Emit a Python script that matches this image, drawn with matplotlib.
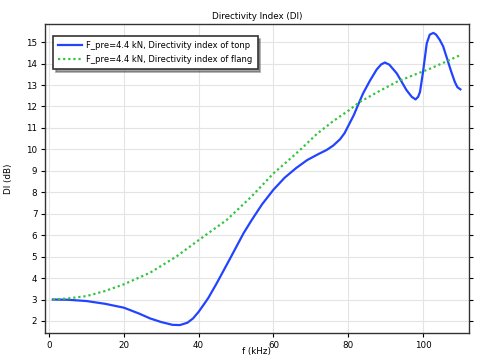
import matplotlib
matplotlib.use("Agg")
import matplotlib.pyplot as plt

# blue: directivity index of tonpilz
f_ton = [1, 5, 10, 15, 20, 24, 27, 30, 33, 35, 37, 38.5, 40, 41.3, 42.6, 44.8, 48.4, 52,
         54.2, 57, 60, 63, 66, 69, 72, 74.2, 76, 77.8, 79, 80, 81.5, 82.7, 84, 85.8,
         87.6, 88.8, 89.8, 91, 93, 95.6, 97, 98, 98.7, 99.2, 100, 101, 101.8, 102.8,
         103.5, 104.5, 105.4, 106.5, 107.5, 108.5, 109.2, 110]
di_ton = [3.0, 2.99, 2.93, 2.8, 2.62, 2.35, 2.12, 1.95, 1.82, 1.81, 1.92, 2.12, 2.43,
          2.75, 3.08, 3.75, 4.91, 6.09, 6.71, 7.45, 8.12, 8.68, 9.12, 9.5, 9.78, 9.97,
          10.18, 10.47, 10.75, 11.09, 11.6, 12.1, 12.62, 13.2, 13.72, 13.96, 14.05,
          13.95, 13.54, 12.76, 12.45, 12.33, 12.45, 12.68, 13.6, 14.94, 15.35, 15.43,
          15.35, 15.1, 14.8, 14.2, 13.65, 13.15, 12.9, 12.8]

# green: directivity index of flange
f_fl = [1, 5, 10, 15, 20, 27, 34, 40, 47.5, 54, 60, 64.4, 67.1, 71.6, 76, 80, 83,
        87.6, 93, 98, 102, 106, 110]
di_fl = [3.0, 3.05, 3.16, 3.4, 3.71, 4.25, 5.0, 5.77, 6.71, 7.78, 8.88, 9.55, 9.97,
         10.72, 11.32, 11.8, 12.2, 12.65, 13.15, 13.5, 13.77, 14.08, 14.4]

xticks = [0, 20, 40, 60, 80, 100]
yticks = list(range(2, 16))

fig = plt.figure(figsize=(4.87, 3.6), dpi=100)
ax = fig.add_axes([0.0924, 0.075, 0.8706, 0.858])

ax.plot(f_ton, di_ton, color="#2244ff", lw=1.6,
        label="F_pre=4.4 kN, Directivity index of tonp")
ax.plot(f_fl, di_fl, color="#33c440", lw=1.6, ls=(0, (1, 1.3)),
        label="F_pre=4.4 kN, Directivity index of flang")

ax.set_xlim(-1.1, 112.3)
ax.set_ylim(1.44, 15.84)
ax.set_xticks(xticks)
ax.set_yticks(yticks)
ax.grid(True, color="#e4e4e4", lw=0.8)
ax.set_axisbelow(True)
ax.tick_params(labelsize=6.3, length=3, width=0.8, pad=2.5)
ax.tick_params(axis="y", right=True, direction="out")
for s in ax.spines.values():
    s.set_linewidth(1.0)
    s.set_color("#333333")

ax.set_title("Directivity Index (DI)", fontsize=6.3, pad=4)
ax.set_xlabel("f (kHz)", fontsize=6.3)
ax.set_ylabel("DI (dB)", fontsize=6.3)
ax.xaxis.set_label_coords(0.5, -0.061)
ax.yaxis.set_label_coords(-0.087, 0.5)
ax.xaxis.label.set_va("center")
ax.yaxis.label.set_va("center")

leg = ax.legend(loc="upper left", bbox_to_anchor=(0.019, 0.961), fontsize=6.0,
                fancybox=False, shadow=True, framealpha=1, borderpad=0.6,
                borderaxespad=0, handlelength=2.9, handletextpad=0.5,
                labelspacing=0.6)
leg.get_frame().set_edgecolor("#333333")
leg.get_frame().set_linewidth(1.2)

fig.savefig("out.png", dpi=100)
